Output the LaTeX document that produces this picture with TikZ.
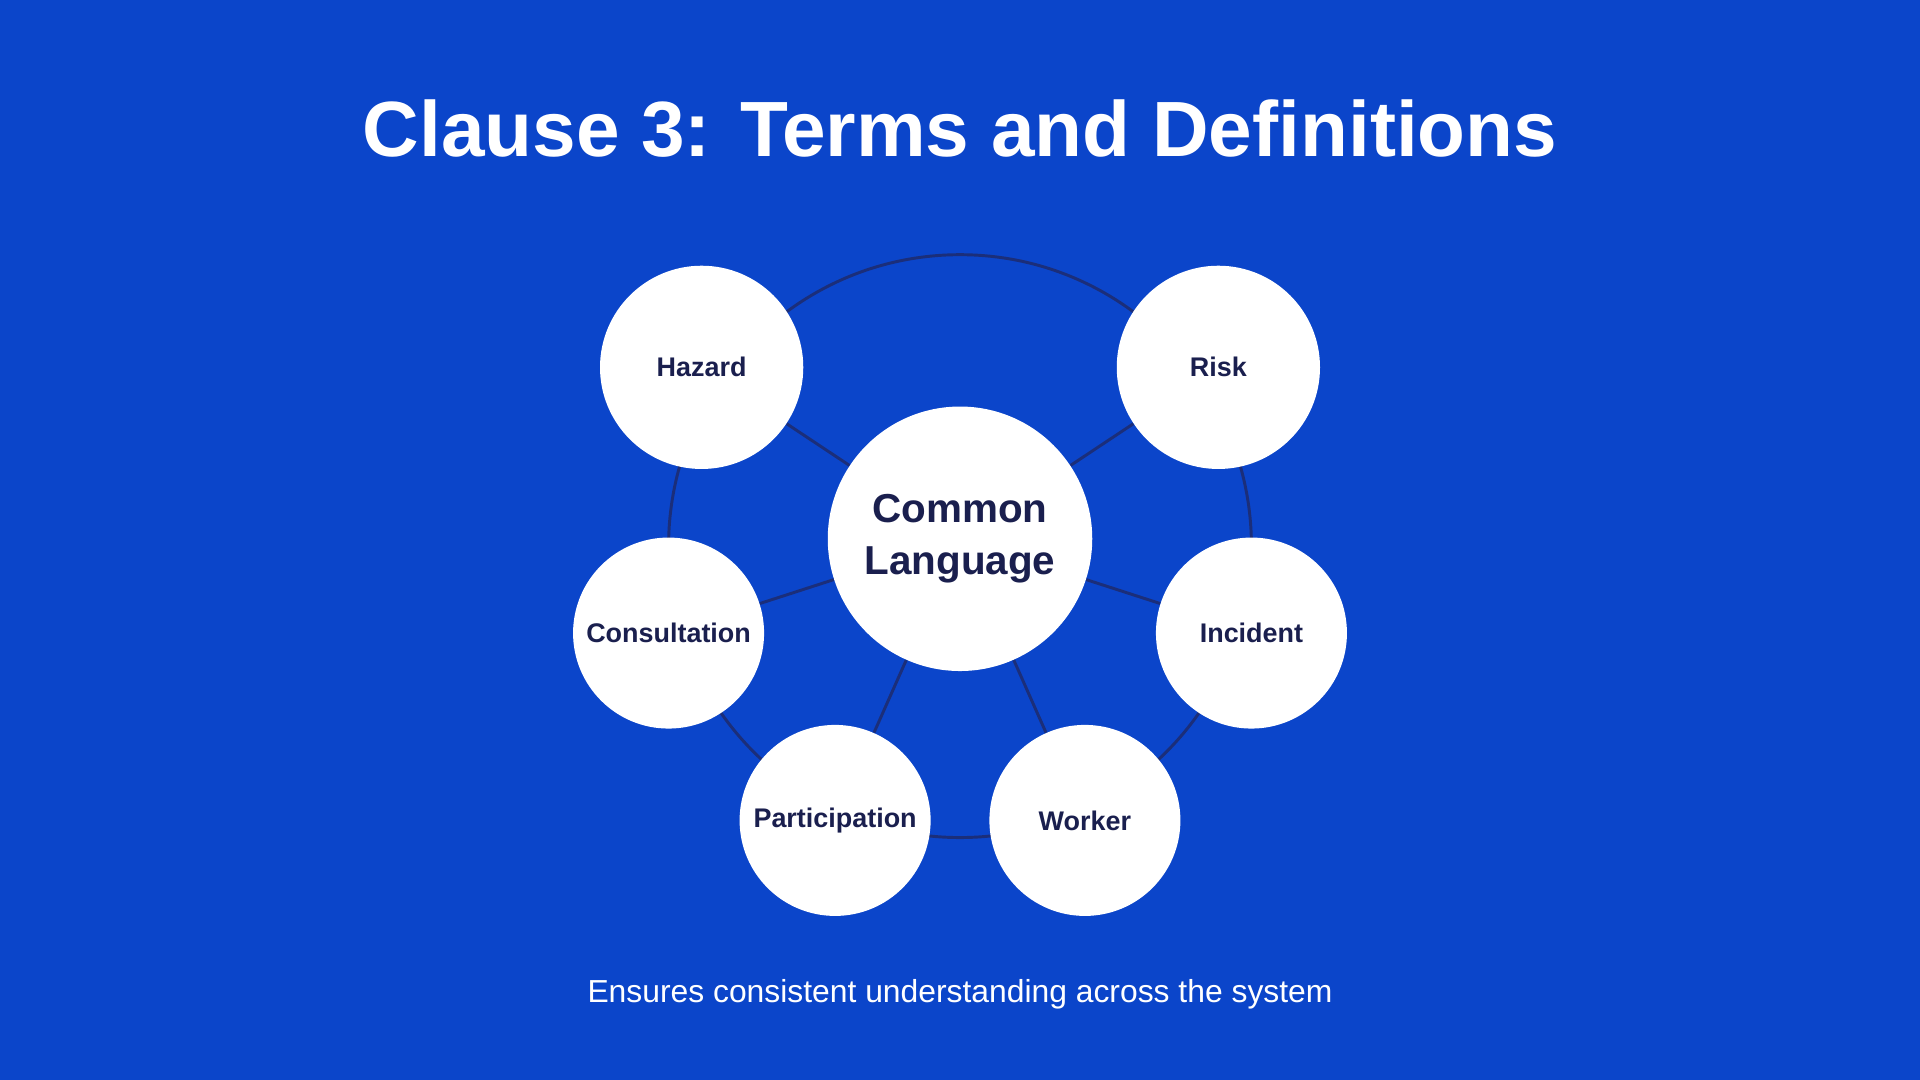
\documentclass[tikz,border=0pt]{standalone}
\usepackage{fontspec}
\setmainfont{Liberation Sans}
\definecolor{bg}{HTML}{0B45CA}
\definecolor{navy}{HTML}{1A1F4E}
\definecolor{ln}{HTML}{1B2E7A}
\begin{document}
\begin{tikzpicture}[x=0.5pt,y=-0.5pt,
  term/.style={circle,fill=white,text=navy,font=\bfseries\fontsize{11}{13}\selectfont,inner sep=0pt},
  link/.style={draw=ln,line width=1.2pt}]
\fill[bg] (0,0) rectangle (1568,882);
\useasboundingbox (0,0) rectangle (1568,882);
\node[text=white,font=\bfseries\fontsize{32}{38}\selectfont] (title) at (784,105) {Clause 3: Terms and Definitions};
\coordinate (rc) at (784,446);
\draw[link] (rc) circle[radius=238*0.5pt];
\node[term,minimum size=216*0.5pt,font=\bfseries\fontsize{16.5}{21}\selectfont,align=center] (c) at (784,440) {Common\\Language};
\node[term,minimum size=166*0.5pt] (h) at (573,300) {Hazard};
\node[term,minimum size=166*0.5pt] (r) at (995,300) {Risk};
\node[term,minimum size=156*0.5pt] (co) at (546,517) {Consultation};
\node[term,minimum size=156*0.5pt] (i) at (1022,517) {Incident};
\node[term,minimum size=156*0.5pt] (p) at (682,670) {Participation};
\node[term,minimum size=156*0.5pt] (w) at (886,670) {Worker};
\begin{scope}[on background layer/.try]
\end{scope}
\foreach \n in {h,r,co,i,p,w} \draw[link] (c) -- (\n);
\node[text=white,font=\fontsize{13}{16}\selectfont] (sub) at (784,812) {Ensures consistent understanding across the system};
\end{tikzpicture}
\end{document}
